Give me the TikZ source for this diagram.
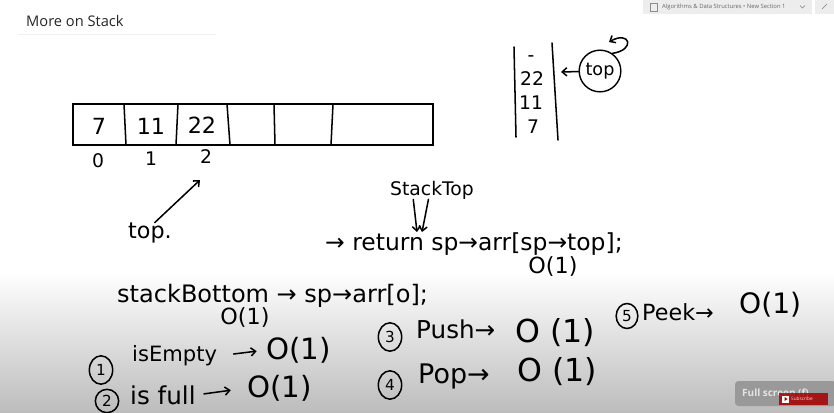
\documentclass[tikz,border=0pt]{standalone}
\usepackage{fontspec}
\newfontfamily\titlefont{Open Sans}
\newfontfamily\handfont{DejaVu Sans}
\newcommand\handsize[1]{\handfont\fontsize{#1}{#1}\selectfont}
\usetikzlibrary{arrows.meta}

\tikzset{
  ink/.style={line width=1.3pt,line cap=round},
  arr/.style={ink,-{Straight Barb[length=4pt,width=7pt]}},
  hand/.style={font=\handsize{19},inner sep=0pt},
  circnum/.style={draw,ellipse,line width=1.3pt,inner sep=0pt,minimum width=0.7cm,minimum height=0.85cm,font=\handsize{13}}
}
\usetikzlibrary{shapes.geometric}

\begin{document}
\begin{tikzpicture}[x=0.03cm,y=-0.03cm]
        \useasboundingbox (0,0) rectangle (834,412);
        \clip (0,0) rectangle (834,412);
        \fill[white] (0,0) rectangle (834,412);
        \shade[top color=white,bottom color=black!26] (0,272) rectangle (834,412);

        % header
        \node[anchor=west,inner sep=0pt,font=\titlefont\fontsize{12.5}{14}\selectfont,text=black!85] (title) at (26,21) {More on Stack};
        \draw[black!6] (18,34) -- (216,34);
        \fill[black!7] (643,0) rectangle (812,14);
        \fill[black!7] (815,0) rectangle (834,14);
        \draw[black!45,line width=0.4pt] (650,3) rectangle (657,11);
        \node[anchor=west,inner sep=0pt,font=\titlefont\fontsize{5}{6}\selectfont,text=black!60] (crumb) at (662,7) {Algorithms \& Data Structures • New Section 1};
        \draw[black!50,line width=0.4pt] (800,5.5) -- (802.5,8) -- (805,5.5);
        \draw[black!50,line width=0.4pt] (822,9) -- (827,4);

        % array
        \draw[ink] (73,104) rectangle (433,145);
        \draw[ink] (124,104) -- (126,145);
        \draw[ink] (178,104) -- (176,145);
        \draw[ink] (227,104) -- (230,145);
        \draw[ink] (274,104) -- (275,145);
        \draw[ink] (333,104) -- (331,145);
        \node[hand] (v0) at (99,126) {7};
        \node[hand] (v1) at (151,126) {11};
        \node[hand] (v2) at (202,125) {22};
        \node[hand,font=\handsize{16}] (i0) at (98,161) {0};
        \node[hand,font=\handsize{16}] (i1) at (151,159) {1};
        \node[hand,font=\handsize{16}] (i2) at (206,157) {2};

        \node[hand] (ptr) at (150,233) {top.};
        \coordinate (idx) at (200,180);
        \draw[arr] ([xshift=4pt]ptr.north) -- (idx);

        % stack
        \draw[ink] (514,47) -- (516,137);
        \draw[ink] (552,43) -- (558,140);
        \node[hand,font=\handsize{16}] (s3) at (531,59) {-};
        \node[hand,font=\handsize{16}] (s2) at (532,79) {22};
        \node[hand,font=\handsize{16}] (s1) at (531,103) {11};
        \node[hand,font=\handsize{16}] (s0) at (533,127) {7};
        \node[draw,circle,line width=1.2pt,inner sep=2pt,minimum size=1.25cm,font=\handsize{15}] (topc) at (600,71) {top};
        \coordinate (stkr) at (561,72);
        \draw[arr] (topc) -- (stkr);
        \coordinate (loop) at (609,42);
        \draw[arr] (topc.55) .. controls (636,50) and (630,30) .. (loop);

        % code lines
        \node[hand,font=\handsize{16}] (stacktop) at (432,190) {StackTop};
        \coordinate (dn1) at (417,232);
        \coordinate (dn2) at (422,232);
        \draw[arr] ([xshift=-16pt]stacktop.south) -- (dn1);
        \draw[arr] ([xshift=-3pt]stacktop.south) -- (dn2);
        \node[hand,anchor=west,font=\handsize{20}] (ret) at (325,244) {→ return sp→arr[sp→top];};
        \node[hand,font=\handsize{19}] (o3) at (553,267) {O(1)};

        \node[hand,anchor=west,font=\handsize{20.5}] (bot) at (117,296) {stackBottom → sp→arr[o];};
        \node[hand,font=\handsize{19}] (o4) at (245,318) {O(1)};

        % complexities
        \node[circnum] (n1) at (101,370) {1};
        \node[hand,anchor=west,font=\handsize{18}] (w1) at (132,356) {isEmpty};
        \node[hand,anchor=west,font=\handsize{25}] (r1) at (266,350) {O(1)};
        \draw[arr,shorten <=14pt,shorten >=8pt] (w1.east) -- (r1.west);

        \node[circnum,minimum height=0.7cm] (n2) at (107,401) {2};
        \node[hand,anchor=west,font=\handsize{21}] (w2) at (130,395) {is full};
        \node[hand,anchor=west,font=\handsize{25}] (r2) at (247,388) {O(1)};
        \draw[arr,shorten <=7pt,shorten >=14pt] (w2.east) -- (r2.west);

        \node[circnum] (n3) at (390,337) {3};
        \node[hand,anchor=west,font=\handsize{21}] (w3) at (416,329) {Push→};
        \node[hand,anchor=west,font=\handsize{27}] (r3) at (515,333) {O (1)};

        \node[circnum,minimum width=0.65cm,minimum height=0.75cm] (n5) at (627,316) {5};
        \node[hand,anchor=west,font=\handsize{19}] (w5) at (642,312) {Peek→};
        \node[hand,anchor=west,font=\handsize{24}] (r5) at (739,305) {O(1)};

        \node[circnum] (n4) at (390,385) {4};
        \node[hand,anchor=west,font=\handsize{23}] (w4) at (418,376) {Pop→};
        \node[hand,anchor=west,font=\handsize{27}] (r4) at (517,372) {O (1)};

        % player overlay
        \fill[black!40,rounded corners=3pt] (735,381) rectangle (836,406);
        \node[anchor=west,inner sep=0pt,font=\titlefont\bfseries\fontsize{8.5}{9}\selectfont,text=white!90!black] (full) at (742,393) {Full screen (f)};
        \fill[red!65!black,opacity=0.85] (779,393) rectangle (828,405);
        \fill[white] (782,395.5) rectangle (789,402.5);
        \fill[red!65!black] (784.5,397) -- (787.5,399) -- (784.5,401) -- cycle;
        \node[anchor=west,inner sep=0pt,font=\titlefont\fontsize{4}{5}\selectfont,text=white!85!red] (subs) at (791,399) {Subscribe};
\end{tikzpicture}
\end{document}
